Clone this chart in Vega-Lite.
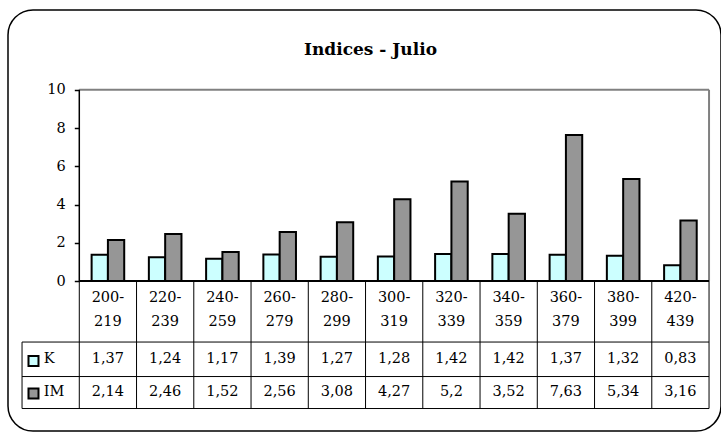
{
  "$schema": "https://vega.github.io/schema/vega-lite/v6.json",
  "width": 713,
  "height": 421,
  "autosize": "none",
  "padding": {"left": 8, "top": 10, "right": 0, "bottom": 3},
  "background": "white",
  "title": {
    "text": "Indices - Julio",
    "font": "DejaVu Serif",
    "fontSize": 17,
    "fontWeight": "bold",
    "color": "black",
    "anchor": "middle",
    "baseline": "alphabetic",
    "offset": -62,
    "dx": 6
  },
  "datasets": {
    "indices": [
      {"rango": "200-219", "serie": "K", "valor": 1.37},
      {"rango": "220-239", "serie": "K", "valor": 1.24},
      {"rango": "240-259", "serie": "K", "valor": 1.17},
      {"rango": "260-279", "serie": "K", "valor": 1.39},
      {"rango": "280-299", "serie": "K", "valor": 1.27},
      {"rango": "300-319", "serie": "K", "valor": 1.28},
      {"rango": "320-339", "serie": "K", "valor": 1.42},
      {"rango": "340-359", "serie": "K", "valor": 1.42},
      {"rango": "360-379", "serie": "K", "valor": 1.37},
      {"rango": "380-399", "serie": "K", "valor": 1.32},
      {"rango": "420-439", "serie": "K", "valor": 0.83},
      {"rango": "200-219", "serie": "IM", "valor": 2.14},
      {"rango": "220-239", "serie": "IM", "valor": 2.46},
      {"rango": "240-259", "serie": "IM", "valor": 1.52},
      {"rango": "260-279", "serie": "IM", "valor": 2.56},
      {"rango": "280-299", "serie": "IM", "valor": 3.08},
      {"rango": "300-319", "serie": "IM", "valor": 4.27},
      {"rango": "320-339", "serie": "IM", "valor": 5.2},
      {"rango": "340-359", "serie": "IM", "valor": 3.52},
      {"rango": "360-379", "serie": "IM", "valor": 7.63},
      {"rango": "380-399", "serie": "IM", "valor": 5.34},
      {"rango": "420-439", "serie": "IM", "valor": 3.16}
    ],
    "uno": [{}]
  },
  "data": {"name": "indices"},
  "layer": [
    {
      "mark": {"type": "bar", "stroke": "black", "strokeWidth": 2},
      "encoding": {
        "x": {
          "field": "rango",
          "type": "nominal",
          "sort": null,
          "scale": {
            "domain": ["Leyenda", "200-219", "220-239", "240-259", "260-279", "280-299", "300-319", "320-339", "340-359", "360-379", "380-399", "420-439"],
            "paddingInner": 0,
            "paddingOuter": 0.2271,
            "align": 0.54
          },
          "axis": {
            "orient": "bottom",
            "offset": -150,
            "domain": false,
            "ticks": false,
            "grid": false,
            "title": null,
            "labelAngle": 0,
            "labelFont": "DejaVu Serif",
            "labelFontSize": 14.5,
            "labelColor": "black",
            "labelLineHeight": 24,
            "labelPadding": 9,
            "labelExpr": "datum.value == 'Leyenda' ? '' : [slice(datum.label, 0, 4), slice(datum.label, 4)]"
          }
        },
        "xOffset": {
          "field": "serie",
          "type": "nominal",
          "scale": {"domain": ["K", "IM"], "paddingInner": 0, "paddingOuter": 0.756}
        },
        "y": {
          "field": "valor",
          "type": "quantitative",
          "scale": {"domain": [-7.84, 14.17], "nice": false, "zero": false},
          "axis": {
            "values": [0, 2, 4, 6, 8, 10],
            "offset": -71.3,
            "domain": false,
            "grid": false,
            "title": null,
            "tickSize": 5,
            "tickColor": "black",
            "tickWidth": 1.5,
            "labelPadding": 9,
            "labelFont": "DejaVu Serif",
            "labelFontSize": 14.5,
            "labelColor": "black"
          }
        },
        "color": {
          "field": "serie",
          "type": "nominal",
          "scale": {"domain": ["K", "IM"], "range": ["#ccffff", "#969696"]},
          "legend": null
        }
      }
    },
    {
      "data": {"name": "uno"},
      "mark": {"type": "rule", "color": "#808080", "strokeWidth": 2},
      "encoding": {
        "x": {"datum": "200-219", "type": "nominal", "bandPosition": 0},
        "x2": {"datum": "420-439", "bandPosition": 1},
        "y": {"datum": 10, "type": "quantitative"}
      }
    },
    {
      "data": {"name": "uno"},
      "mark": {"type": "rule", "color": "#808080", "strokeWidth": 2},
      "encoding": {
        "x": {"datum": "420-439", "type": "nominal", "bandPosition": 1},
        "y": {"datum": 10, "type": "quantitative"},
        "y2": {"datum": 0}
      }
    },
    {
      "data": {"name": "uno"},
      "mark": {"type": "rule", "color": "black", "strokeWidth": 1.5},
      "encoding": {
        "x": {"datum": "200-219", "type": "nominal", "bandPosition": 0},
        "y": {"datum": 10, "type": "quantitative"},
        "y2": {"datum": 0}
      }
    },
    {
      "transform": [{"filter": "datum.serie == 'K'"}],
      "mark": {"type": "rule", "color": "black", "strokeWidth": 1},
      "encoding": {
        "x": {"field": "rango", "type": "nominal", "bandPosition": 0},
        "y": {"datum": 0, "type": "quantitative"},
        "y2": {"datum": -6.665}
      }
    },
    {
      "data": {"name": "uno"},
      "mark": {"type": "rule", "color": "black", "strokeWidth": 1},
      "encoding": {
        "x": {"datum": "420-439", "type": "nominal", "bandPosition": 1},
        "y": {"datum": 0, "type": "quantitative"},
        "y2": {"datum": -6.665}
      }
    },
    {
      "data": {"name": "uno"},
      "mark": {"type": "rule", "color": "black", "strokeWidth": 1},
      "encoding": {
        "x": {"datum": "Leyenda", "type": "nominal", "bandPosition": 0},
        "y": {"datum": -3.189, "type": "quantitative"},
        "y2": {"datum": -6.665}
      }
    },
    {
      "data": {"name": "uno"},
      "mark": {"type": "rule", "color": "black", "strokeWidth": 1},
      "encoding": {
        "x": {"datum": "Leyenda", "type": "nominal", "bandPosition": 0},
        "x2": {"datum": "420-439", "bandPosition": 1},
        "y": {"datum": -3.189, "type": "quantitative"}
      }
    },
    {
      "data": {"name": "uno"},
      "mark": {"type": "rule", "color": "black", "strokeWidth": 1},
      "encoding": {
        "x": {"datum": "Leyenda", "type": "nominal", "bandPosition": 0},
        "x2": {"datum": "420-439", "bandPosition": 1},
        "y": {"datum": -4.993, "type": "quantitative"}
      }
    },
    {
      "data": {"name": "uno"},
      "mark": {"type": "rule", "color": "black", "strokeWidth": 1},
      "encoding": {
        "x": {"datum": "Leyenda", "type": "nominal", "bandPosition": 0},
        "x2": {"datum": "420-439", "bandPosition": 1},
        "y": {"datum": -6.665, "type": "quantitative"}
      }
    },
    {
      "data": {"name": "uno"},
      "mark": {"type": "rule", "color": "black", "strokeWidth": 2},
      "encoding": {
        "x": {"datum": "200-219", "type": "nominal", "bandPosition": 0},
        "x2": {"datum": "420-439", "bandPosition": 1},
        "y": {"datum": 0, "type": "quantitative"}
      }
    },
    {
      "transform": [{"filter": "datum.serie == 'K'"}],
      "mark": {"type": "text", "font": "DejaVu Serif", "fontSize": 14.5, "color": "black", "baseline": "middle"},
      "encoding": {
        "x": {"field": "rango", "type": "nominal"},
        "y": {"datum": -4.06, "type": "quantitative"},
        "text": {"field": "valor", "type": "quantitative", "format": ".3~g"}
      }
    },
    {
      "transform": [{"filter": "datum.serie == 'IM'"}],
      "mark": {"type": "text", "font": "DejaVu Serif", "fontSize": 14.5, "color": "black", "baseline": "middle"},
      "encoding": {
        "x": {"field": "rango", "type": "nominal"},
        "y": {"datum": -5.81, "type": "quantitative"},
        "text": {"field": "valor", "type": "quantitative", "format": ".3~g"}
      }
    },
    {
      "transform": [{"filter": "datum.serie == 'K' && datum.rango == '200-219'"}],
      "mark": {"type": "point", "shape": "square", "size": 100, "filled": true, "stroke": "black", "strokeWidth": 2, "opacity": 1},
      "encoding": {
        "x": {"datum": "Leyenda", "type": "nominal", "bandPosition": 0.2},
        "y": {"datum": -4.18, "type": "quantitative"},
        "fill": {"field": "serie", "type": "nominal", "scale": {"domain": ["K", "IM"], "range": ["#ccffff", "#969696"]}, "legend": null}
      }
    },
    {
      "transform": [{"filter": "datum.serie == 'IM' && datum.rango == '200-219'"}],
      "mark": {"type": "point", "shape": "square", "size": 100, "filled": true, "stroke": "black", "strokeWidth": 2, "opacity": 1},
      "encoding": {
        "x": {"datum": "Leyenda", "type": "nominal", "bandPosition": 0.2},
        "y": {"datum": -5.88, "type": "quantitative"},
        "fill": {"field": "serie", "type": "nominal", "scale": {"domain": ["K", "IM"], "range": ["#ccffff", "#969696"]}, "legend": null}
      }
    },
    {
      "transform": [{"filter": "datum.serie == 'K' && datum.rango == '200-219'"}],
      "mark": {"type": "text", "font": "DejaVu Serif", "fontSize": 14.5, "color": "black", "baseline": "middle", "align": "left"},
      "encoding": {
        "x": {"datum": "Leyenda", "type": "nominal", "bandPosition": 0.38},
        "y": {"datum": -4.06, "type": "quantitative"},
        "text": {"field": "serie"}
      }
    },
    {
      "transform": [{"filter": "datum.serie == 'IM' && datum.rango == '200-219'"}],
      "mark": {"type": "text", "font": "DejaVu Serif", "fontSize": 14.5, "color": "black", "baseline": "middle", "align": "left"},
      "encoding": {
        "x": {"datum": "Leyenda", "type": "nominal", "bandPosition": 0.38},
        "y": {"datum": -5.81, "type": "quantitative"},
        "text": {"field": "serie"}
      }
    }
  ],
  "config": {
    "font": "DejaVu Serif",
    "view": {"stroke": "black", "strokeWidth": 1.5, "cornerRadius": 25, "fill": "white"},
    "locale": {"number": {"decimal": ",", "thousands": ".", "grouping": [3], "currency": ["", " €"]}}
  }
}
